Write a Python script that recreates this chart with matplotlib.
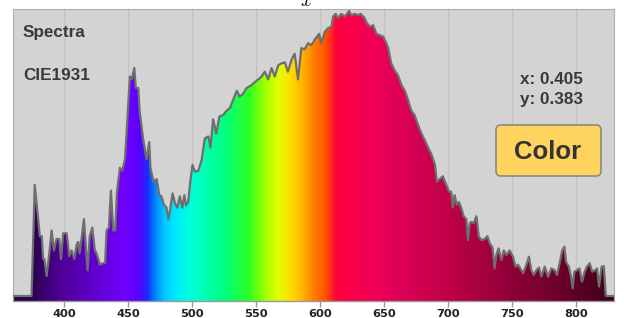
import numpy as np
import matplotlib
matplotlib.use('Agg')
import matplotlib.pyplot as plt
from matplotlib.colors import LinearSegmentedColormap
from matplotlib.patches import FancyBboxPatch

# spectrum (nm, relative intensity)
wavelength = [360, 374.5, 377, 379, 381, 382.5, 383.5, 384.5, 386.3, 388.4, 390.2, 392, 394, 396.2,
              397.5, 399.3, 402, 404, 405.8, 408, 409.8, 411, 412, 413.6, 415.5, 417, 418.3, 420,
              422, 424, 425.3, 428, 430, 432, 433.2, 435, 436.6, 438.4, 440, 441.2, 443.6, 445.5,
              447.5, 448.8, 451.4, 452.8, 454.9, 456, 458, 459, 461.8, 464.5, 466.5, 467.5, 468.4,
              470, 472.4, 474.4, 476, 478, 480, 481.5, 482.8, 484.8, 486.7, 488.5, 490.5, 492.4,
              494, 495.3, 497, 498.8, 500.4, 502.3, 505, 507.5, 510, 512.8, 514.4, 516.5, 519,
              521.4, 524.3, 527, 529.7, 532.3, 535, 537.3, 540, 542.6, 546.6, 549, 551.8, 554.4,
              556.9, 559.6, 562.2, 564.7, 567.5, 569.9, 572.6, 575, 577.9, 580.3, 582.9, 585.5,
              588, 590.7, 593.4, 596, 599.4, 601, 603.8, 606.4, 609, 610.3, 612.3, 614, 616.8,
              619.4, 622.8, 624.6, 627.2, 629.8, 631.9, 635, 636.4, 639, 641.6, 644.2, 646.8,
              649.5, 652, 653.4, 655.8, 658.6, 661, 663.8, 666.4, 668.8, 671.5, 674, 676.8, 679.4,
              682, 684.7, 687, 690, 691.5, 693.6, 696.2, 698.8, 701, 702.7, 704, 705.3, 707.2,
              708.7, 710.5, 712.4, 714.5, 715.8, 717.2, 718.4, 720.3, 722.4, 724.2, 726.3, 729,
              731, 732.8, 735, 736.6, 738, 739.7, 742, 743.8, 745.8, 748.4, 751, 753, 755, 756.7,
              758.9, 761, 763.5, 765.4, 767.2, 769.2, 771.4, 773.2, 775.8, 778.4, 781, 783.6,
              785.4, 787.5, 789.5, 791.2, 792.5, 794.7, 796.4, 797.7, 799, 800.8, 803, 805, 807,
              808.8, 811, 813, 815, 816.8, 818.3, 820.3, 822, 823.6, 830]
intensity = [0, 0, 0.39, 0.30, 0.21, 0.21, 0.13, 0.13, 0.07, 0.15, 0.23, 0.16, 0.20, 0.20,
             0.13, 0.22, 0.22, 0.14, 0.16, 0.13, 0.18, 0.19, 0.15, 0.20, 0.27, 0.17, 0.09, 0.21,
             0.24, 0.16, 0.15, 0.11, 0.115, 0.115, 0.23, 0.24, 0.37, 0.23, 0.23, 0.36, 0.45, 0.44,
             0.48, 0.57, 0.77, 0.76, 0.80, 0.73, 0.73, 0.65, 0.55, 0.48, 0.54, 0.45, 0.43,
             0.40, 0.41, 0.354, 0.35, 0.32, 0.31, 0.27, 0.30, 0.36, 0.325, 0.31, 0.35, 0.31,
             0.354, 0.318, 0.33, 0.407, 0.46, 0.436, 0.44, 0.477, 0.553, 0.56, 0.52, 0.62, 0.57,
             0.63, 0.635, 0.65, 0.66, 0.69, 0.72, 0.70, 0.71, 0.73, 0.74, 0.75, 0.76, 0.77,
             0.787, 0.76, 0.80, 0.77, 0.81, 0.816, 0.82, 0.787, 0.83, 0.85, 0.76, 0.87,
             0.865, 0.887, 0.88, 0.90, 0.92, 0.887, 0.927, 0.94, 0.945, 0.98, 0.99, 0.975, 0.99,
             0.98, 1.0, 0.985, 0.99, 0.985, 0.99, 0.975, 0.96, 0.945, 0.95, 0.92, 0.915,
             0.91, 0.887, 0.87, 0.816, 0.79, 0.775, 0.74, 0.72, 0.69, 0.65, 0.635, 0.60, 0.57,
             0.547, 0.52, 0.50, 0.46, 0.40, 0.41, 0.42, 0.39, 0.366, 0.366, 0.31, 0.354, 0.32,
             0.33, 0.31, 0.28, 0.27, 0.196, 0.255, 0.26, 0.255, 0.28, 0.21, 0.196, 0.20,
             0.21, 0.185, 0.17, 0.097, 0.144, 0.167, 0.126, 0.16, 0.144, 0.16, 0.138, 0.103, 0.11, 0.097,
             0.08, 0.103, 0.138, 0.09, 0.074, 0.09, 0.10, 0.068, 0.103, 0.068, 0.097, 0.09,
             0.074, 0.115, 0.16, 0.173, 0.12, 0.103, 0.068, 0.027, 0.085, 0.09, 0.097, 0.05, 0.085,
             0.103, 0.115, 0.085, 0.09, 0.097, 0.033, 0.103, 0.105, 0.0, 0.0]

ticks = [400, 450, 500, 550, 600, 650, 700, 750, 800]
cie_x, cie_y = 0.405, 0.383

# wavelength -> colour stops for the fill
stops = [(360, '#2a0048'), (375, '#2d0052'), (395, '#4c0092'), (420, '#5e00c8'),
         (448, '#7000ff'), (458, '#5a00ff'), (465, '#1530ff'), (470, '#0080ff'),
         (478, '#00c8ff'), (487, '#00eaff'), (497, '#00ffe0'), (515, '#00ffa0'),
         (525, '#00ff80'), (545, '#30ff20'), (557, '#a0ff00'), (567, '#e0ff00'),
         (577, '#ffdd00'), (587, '#ffb000'), (595, '#ff8000'), (605, '#ff5000'),
         (613, '#ff0040'), (640, '#f00052'), (660, '#e00058'), (700, '#c00048'),
         (750, '#900038'), (800, '#600028'), (830, '#400018')]
cmap = LinearSegmentedColormap.from_list(
    'spec', [((w - 360) / 470, c) for w, c in stops])

plt.rcParams['mathtext.fontset'] = 'cm'

W, H = 624, 318
fig = plt.figure(figsize=(W / 100, H / 100), dpi=100)
ax = fig.add_axes([13 / W, 17 / H, 601 / W, 292 / H])
ax.set_facecolor('#d3d3d3')
ymin, ymax = -0.0175, 1.007
ax.set_xlim(360, 830)
ax.set_ylim(ymin, ymax)

poly = ax.fill_between(wavelength, intensity, ymin, color='none', lw=0)
grad = np.linspace(360, 830, 940).reshape(1, -1)
im = ax.imshow(grad, extent=[360, 830, ymin, ymax], aspect='auto', cmap=cmap,
               vmin=360, vmax=830, zorder=2, interpolation='bilinear')
im.set_clip_path(poly.get_paths()[0], transform=ax.transData)
ax.plot(wavelength, intensity, color='#6e6e6e', lw=1.6, zorder=3)

ax.set_xticks(ticks)
ax.set_yticks([])
ax.grid(axis='x', color='#c2c2c2', lw=1)
ax.set_axisbelow(True)
ax.tick_params(axis='x', length=4, width=1, color='#999999', pad=1.5,
               labelsize=8.2, labelcolor='#222222')
for lab in ax.get_xticklabels():
    lab.set_fontweight('bold')
for s in ['top', 'right', 'left']:
    ax.spines[s].set_color('#b8a8b0')
    ax.spines[s].set_linewidth(0.8)
ax.spines['bottom'].set_color('#999999')
ax.spines['bottom'].set_linewidth(1)

font = dict(family='Liberation Sans', fontweight='bold', color='#3a3a3a', fontsize=12.3)
fig.text(23 / W, 1 - 33 / H, 'Spectra', va='center', ha='left', **font)
fig.text(23 / W, 1 - 75 / H, 'CIE1931', va='center', ha='left', **font)
fig.text(520 / W, 1 - 79 / H, 'x: {:.3f}'.format(cie_x), va='center', ha='left', **font)
fig.text(520 / W, 1 - 100 / H, 'y: {:.3f}'.format(cie_y), va='center', ha='left', **font)

btn = FancyBboxPatch((4.96, (H - 176) / 100), 1.05, 0.51,
                     boxstyle='round,pad=0,rounding_size=0.05',
                     transform=fig.dpi_scale_trans, facecolor='#ffd45e',
                     edgecolor='#8c8a7a', lw=1.2, zorder=5)
fig.patches.append(btn)
fig.text(548 / W, 1 - 152 / H, 'Color', va='center', ha='center', family='Liberation Sans',
         fontweight='bold', color='#333333', fontsize=18.5, zorder=6)

# axis label sits above the frame and is cut by the top edge, as in the original
fig.text(306 / W, 1.0, '$x$', fontsize=14, ha='center', va='center')

fig.savefig('out.png', dpi=100)
